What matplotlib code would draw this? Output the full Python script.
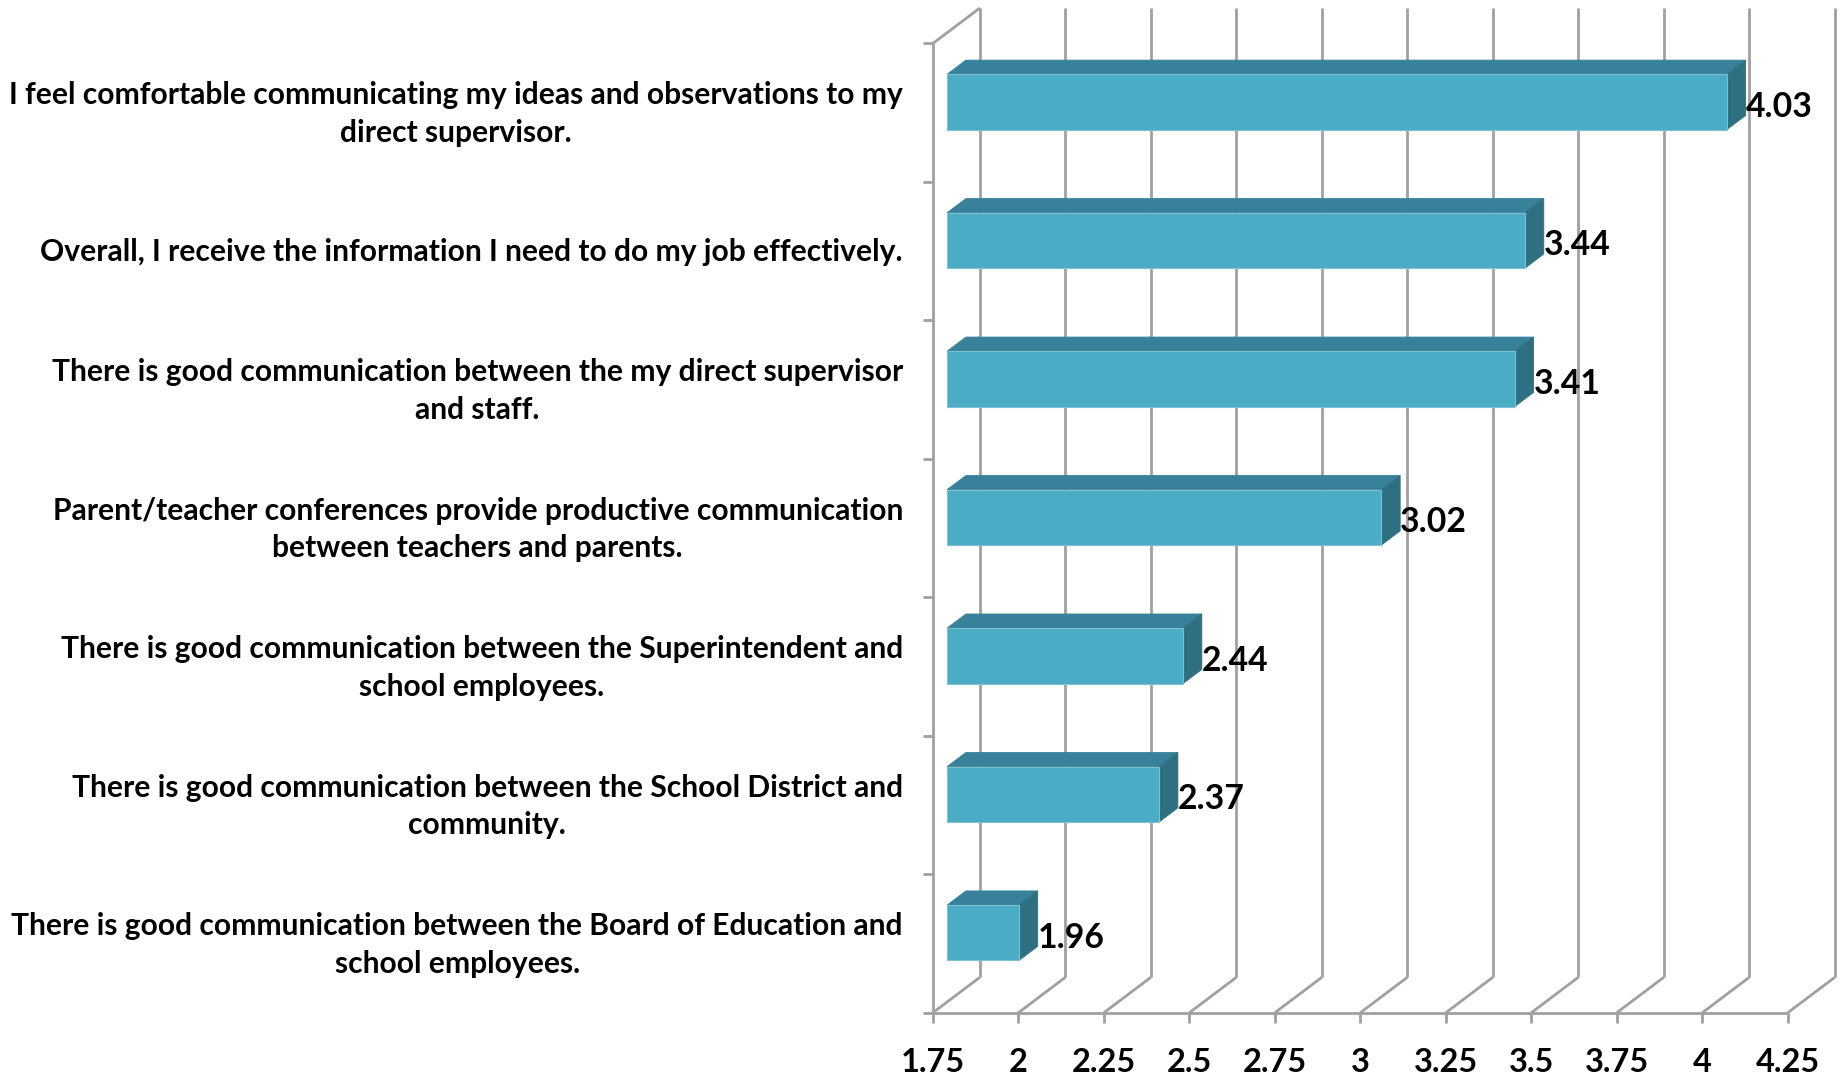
"""
Communication survey: mean agreement score per statement, drawn as an
Excel-style 3D clustered bar chart (box with back wall, floor and left wall).
"""
import matplotlib
matplotlib.use("Agg")
import matplotlib.pyplot as plt
from matplotlib.patches import Polygon

LABELS = [
    "I feel comfortable communicating my ideas and observations to my\ndirect supervisor.",
    "Overall, I receive the information I need to do my job effectively.",
    "There is good communication between the my direct supervisor\nand staff.",
    "Parent/teacher conferences provide productive communication\nbetween teachers and parents.",
    "There is good communication between the Superintendent and\nschool employees.",
    "There is good communication between the School District and\ncommunity.",
    "There is good communication between the Board of Education and\nschool employees.",
]
SCORES = [4.03, 3.44, 3.41, 3.02, 2.44, 2.37, 1.96]
TICKS = [1.75, 2, 2.25, 2.5, 2.75, 3, 3.25, 3.5, 3.75, 4, 4.25]
TICK_TEXT = ["1.75", "2", "2.25", "2.5", "2.75", "3", "3.25", "3.5", "3.75", "4", "4.25"]

FRONT = "#4bacc6"
TOP = "#37829a"
SIDE = "#2f6f82"
EDGE = "#7fbfd0"
GRID = "#a0a0a0"
FONT = ["Lato", "DejaVu Sans"]

# depth of the 3D box, in data units (x) and category units (y)
DX = 0.1376
DY = 0.256
BAR_D0, BAR_D1 = 0.30, 0.70
BAR_H = 0.40


def draw_box(ax, xmin, xmax, n):
    kw = dict(color=GRID, lw=2.0, solid_capstyle="butt", zorder=1, clip_on=False)
    for v in TICKS:
        ax.plot([v + DX, v + DX], [DY, n + DY], **kw)       # back wall
        ax.plot([v, v + DX], [0, DY], **kw)                 # floor
        ax.plot([v, v], [0, -0.072], **kw)                  # tick marks
    ax.plot([xmin, xmax], [0, 0], **kw)
    ax.plot([xmin, xmin], [0, n], **kw)                     # left wall
    ax.plot([xmin, xmin + DX], [n, n + DY], **kw)
    for k in range(n + 1):
        ax.plot([xmin - 0.029, xmin], [k, k], **kw)


def draw_bar(ax, base, value, yc):
    x0, x1 = base + BAR_D0 * DX, value + BAR_D0 * DX
    y0, y1 = yc - BAR_H / 2, yc + BAR_H / 2
    ddx, ddy = (BAR_D1 - BAR_D0) * DX, (BAR_D1 - BAR_D0) * DY
    top = [(x0, y1), (x1, y1), (x1 + ddx, y1 + ddy), (x0 + ddx, y1 + ddy)]
    side = [(x1, y0), (x1 + ddx, y0 + ddy), (x1 + ddx, y1 + ddy), (x1, y1)]
    front = [(x0, y0), (x1, y0), (x1, y1), (x0, y1)]
    ax.add_patch(Polygon(top, closed=True, fc=TOP, ec=TOP, lw=0.6, zorder=3))
    ax.add_patch(Polygon(side, closed=True, fc=SIDE, ec=SIDE, lw=0.6, zorder=3))
    ax.add_patch(Polygon(front, closed=True, fc=FRONT, ec=EDGE, lw=0.8, zorder=4))


def main():
    n = len(SCORES)
    xmin, xmax = TICKS[0], TICKS[-1]

    fig = plt.figure(figsize=(18.43, 10.74), dpi=100)
    fig.patch.set_facecolor("white")
    ax = fig.add_axes([0.5062, 0.0571, 0.4894, 0.9355])
    ax.set_xlim(xmin, xmax + DX)
    ax.set_ylim(0, n + DY)
    ax.axis("off")

    draw_box(ax, xmin, xmax, n)

    for i, (label, score) in enumerate(zip(LABELS, SCORES)):
        y = n - 1 - i
        yc = y + 0.5 + BAR_D0 * DY
        draw_bar(ax, xmin, score, yc)
        ax.text(score + BAR_D1 * DX, yc - 0.035, f"{score:.2f}", ha="left", va="center",
                fontsize=24.3, fontweight="bold", family=FONT, zorder=5)
        ax.text(xmin - 0.0877, y + 0.49, label, ha="right", va="center",
                multialignment="center", linespacing=1.42, fontsize=21.6,
                fontweight="bold", family=FONT, clip_on=False)

    for v, t in zip(TICKS, TICK_TEXT):
        ax.text(v, -0.36, t, ha="center", va="center", fontsize=23.4,
                fontweight="bold", family=FONT, clip_on=False)

    fig.savefig("out.png", dpi=100, facecolor="white")


if __name__ == "__main__":
    main()
